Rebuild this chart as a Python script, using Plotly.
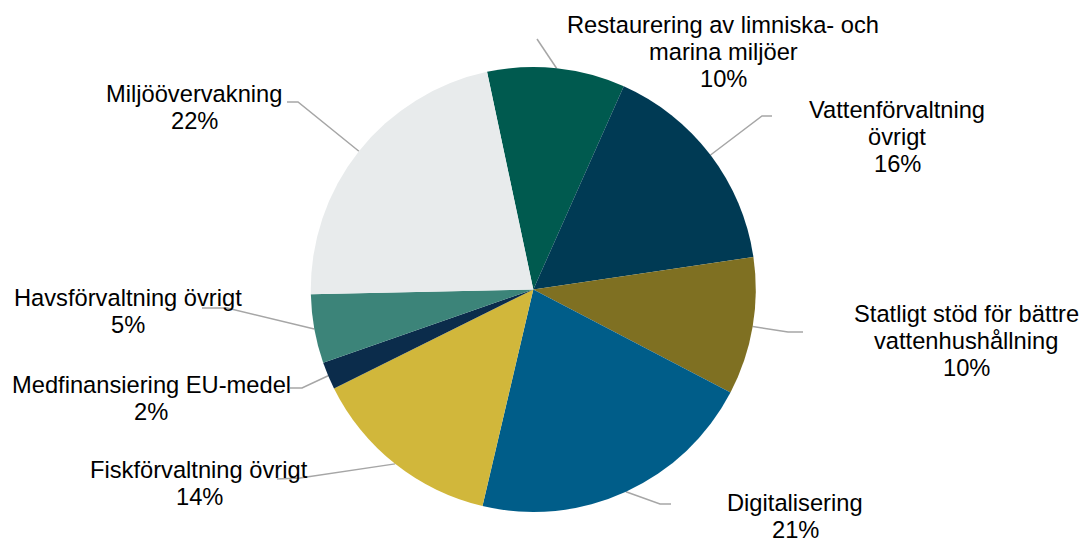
import math
import plotly.graph_objects as go

# Fördelning av anslag per område (procent)
labels = [
    "Restaurering av limniska- och marina miljöer",
    "Vattenförvaltning övrigt",
    "Statligt stöd för bättre vattenhushållning",
    "Digitalisering",
    "Fiskförvaltning övrigt",
    "Medfinansiering EU-medel",
    "Havsförvaltning övrigt",
    "Miljöövervakning",
]
values = [10, 16, 10, 21, 14, 2, 5, 22]
colors = ["#005A4F", "#003A54", "#7F7022", "#005D89",
          "#D1B73B", "#0B2C4B", "#3C8479", "#E8EBEC"]
# Etiketttexter, radbrutna som i diagrammet
label_lines = [
    ["Restaurering av limniska- och", "marina miljöer"],
    ["Vattenförvaltning", "övrigt"],
    ["Statligt stöd för bättre", "vattenhushållning"],
    ["Digitalisering"],
    ["Fiskförvaltning övrigt"],
    ["Medfinansiering EU-medel"],
    ["Havsförvaltning övrigt"],
    ["Miljöövervakning"],
]

W, H = 1083, 541
CX, CY, R = 533.3, 289.5, 222.5
ROTATION = -12
FONT = dict(family="Liberation Sans, Arial, sans-serif", size=23.7, color="#000000")
LINE_H = 27
LEADER = "#A6A6A6"

# Etikettplacering: (mittpunkt x, baslinje för första raden)
label_pos = [
    (723, 33.5), (897, 118.5), (966, 322), (795, 511),
    (199, 478.5), (151, 393.5), (128, 306.5), (194, 102.5),
]
# Ledarlinjer: punkter från etiketten fram till tårtkanten (kanten läggs till nedan)
leader_start = [
    [(537, 39)],
    [(772, 116), (762, 116)],
    [(803, 332), (788, 332)],
    [(671, 504), (660, 504)],
    [(277, 479), (300, 478)],
    [(290, 388), (302, 388)],
    [(202, 308), (227, 308)],
    [(287, 102), (298, 102)],
]

fig = go.Figure()

fig.add_trace(go.Pie(
    labels=labels, values=values, sort=False, direction="clockwise",
    rotation=ROTATION, textinfo="none", hoverinfo="label+percent",
    marker=dict(colors=colors, line=dict(color="#FFFFFF", width=0)),
    domain=dict(x=[(CX - R) / W, (CX + R) / W],
                y=[(H - CY - R) / H, (H - CY + R) / H]),
    showlegend=False,
))

total = sum(values)
cum = 0.0
for i, v in enumerate(values):
    mid = ROTATION + (cum + v / 2) / total * 360.0
    cum += v
    a = math.radians(mid)
    ex, ey = CX + R * math.sin(a), CY - R * math.cos(a)
    pts = leader_start[i] + [(ex, ey)]
    fig.add_trace(go.Scatter(
        x=[p[0] for p in pts], y=[p[1] for p in pts], mode="lines",
        line=dict(color=LEADER, width=1.5), hoverinfo="skip", showlegend=False,
    ))
    lx, ly = label_pos[i]
    lines = label_lines[i] + [f"{round(v / total * 100)}%"]
    for k, t in enumerate(lines):
        fig.add_annotation(
            x=lx, y=ly + k * LINE_H - 8.2, xref="x", yref="y", text=t,
            showarrow=False, xanchor="center", yanchor="middle", font=FONT,
        )

fig.update_layout(
    width=W, height=H, margin=dict(l=0, r=0, t=0, b=0),
    paper_bgcolor="#FFFFFF", plot_bgcolor="rgba(0,0,0,0)",
    xaxis=dict(range=[0, W], visible=False, fixedrange=True),
    yaxis=dict(range=[H, 0], visible=False, fixedrange=True),
)

fig.write_html("out.html")
